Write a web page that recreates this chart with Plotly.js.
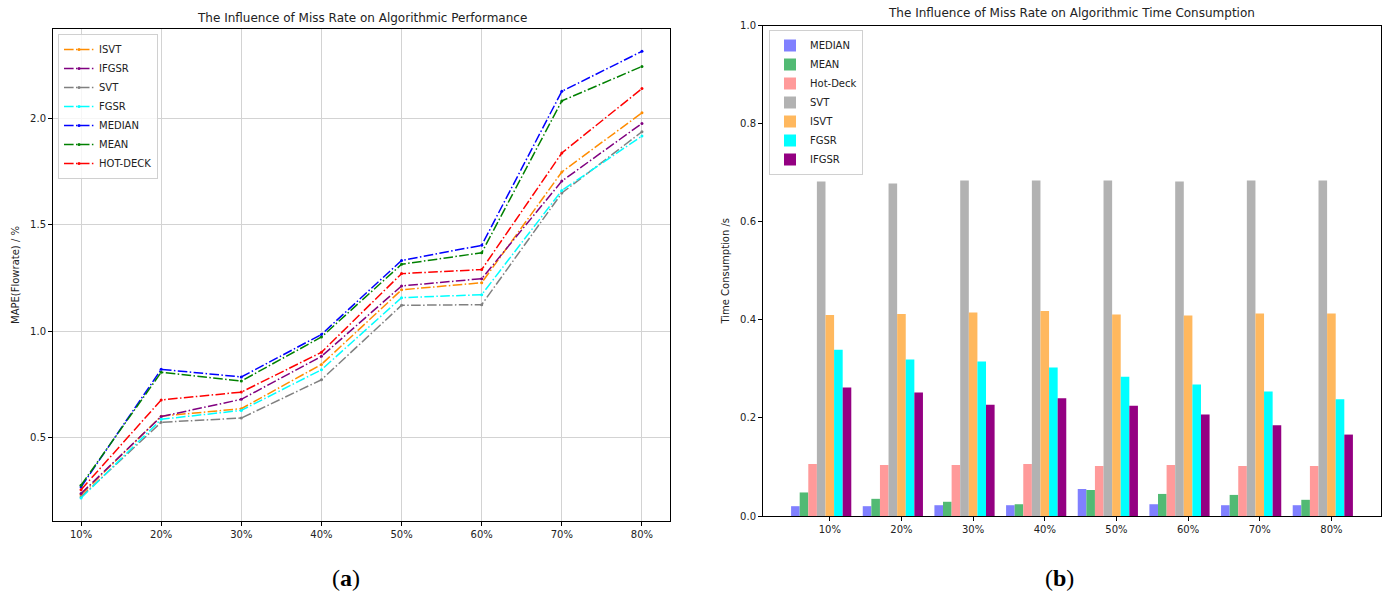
<!DOCTYPE html>
<html>
<head>
<meta charset="utf-8">
<script src="https://cdn.plot.ly/plotly-3.0.1.min.js"></script>
<style>html,body{margin:0;padding:0;background:#fff;}#chart{width:1389px;height:595px;}</style>
</head>
<body>
<div id="chart"></div>
<script>
// ---- Data ----
const categories = ["10%", "20%", "30%", "40%", "50%", "60%", "70%", "80%"];

// (a) MAPE(Flowrate) / %
const lineNames = ["ISVT", "IFGSR", "SVT", "FGSR", "MEDIAN", "MEAN", "HOT-DECK"];
const mapeISVT    = [0.23, 0.60, 0.635, 0.843, 1.194, 1.227, 1.748, 2.026];
const mapeIFGSR   = [0.236, 0.598, 0.679, 0.881, 1.212, 1.246, 1.705, 1.976];
const mapeSVT     = [0.22, 0.571, 0.591, 0.771, 1.121, 1.124, 1.649, 1.937];
const mapeFGSR    = [0.215, 0.585, 0.627, 0.818, 1.157, 1.171, 1.661, 1.917];
const mapeMEDIAN  = [0.267, 0.82, 0.784, 0.984, 1.332, 1.403, 2.127, 2.315];
const mapeMEAN    = [0.275, 0.806, 0.765, 0.972, 1.314, 1.368, 2.082, 2.244];
const mapeHOTDECK = [0.254, 0.676, 0.713, 0.90, 1.27, 1.289, 1.837, 2.14];

// (b) Time Consumption /s
const barNames = ["MEDIAN", "MEAN", "Hot-Deck", "SVT", "ISVT", "FGSR", "IFGSR"];
const timeMEDIAN  = [0.020, 0.020, 0.022, 0.022, 0.055, 0.024, 0.022, 0.022];
const timeMEAN    = [0.048, 0.035, 0.029, 0.024, 0.053, 0.045, 0.043, 0.033];
const timeHotDeck = [0.106, 0.104, 0.104, 0.106, 0.102, 0.104, 0.102, 0.102];
const timeSVT     = [0.682, 0.678, 0.684, 0.684, 0.684, 0.682, 0.684, 0.684];
const timeISVT    = [0.410, 0.412, 0.415, 0.418, 0.411, 0.409, 0.413, 0.413];
const timeFGSR    = [0.339, 0.319, 0.315, 0.303, 0.284, 0.268, 0.254, 0.238];
const timeIFGSR   = [0.262, 0.252, 0.227, 0.240, 0.225, 0.207, 0.185, 0.166];

// ---- Styles ----
const lineSeries = [mapeISVT, mapeIFGSR, mapeSVT, mapeFGSR, mapeMEDIAN, mapeMEAN, mapeHOTDECK];
const lineColors = ["#ff8c00", "#800080", "#808080", "#00ffff", "#0000ff", "#008000", "#ff0000"];
const barSeries = [timeMEDIAN, timeMEAN, timeHotDeck, timeSVT, timeISVT, timeFGSR, timeIFGSR];
const barColors = ["#8080ff", "#52ba74", "#ff9a9a", "#b2b2b2", "#ffb85e", "#00ffff", "#940082"];

const FONT = "DejaVu Sans, sans-serif";
const traces = [];

lineSeries.forEach((ys, i) => {
  traces.push({
    type: "scatter", mode: "lines+markers",
    x: categories, y: ys, name: lineNames[i],
    xaxis: "x", yaxis: "y", legend: "legend",
    line: {color: lineColors[i], width: 1.5, dash: "9.6px,2.4px,1.5px,2.4px"},
    marker: {color: lineColors[i], size: 3}
  });
});

const w = 0.12;
barSeries.forEach((ys, i) => {
  traces.push({
    type: "bar", x: categories, y: ys, name: barNames[i],
    xaxis: "x2", yaxis: "y2", legend: "legend2",
    width: w, offset: (i - 4.5) * w,
    marker: {color: barColors[i], line: {width: 0}}
  });
});

const W = 1389, H = 595;
const axBase = {
  showline: true, mirror: true, linecolor: "#000", linewidth: 1,
  ticks: "outside", ticklen: 4, tickcolor: "#000", tickwidth: 1,
  zeroline: false, automargin: false,
  tickfont: {family: FONT, size: 10, color: "#222"}
};

const layout = {
  width: W, height: H,
  margin: {l: 0, r: 0, t: 0, b: 0},
  paper_bgcolor: "#fff", plot_bgcolor: "#fff",
  font: {family: FONT, size: 10, color: "#222"},
  barmode: "overlay",
  xaxis: Object.assign({}, axBase, {
    domain: [53 / W, 670 / W], anchor: "y", type: "category",
    range: [-0.35, 7.35], showgrid: true, gridcolor: "#d3d3d3", gridwidth: 1
  }),
  yaxis: Object.assign({}, axBase, {
    domain: [1 - 521 / H, 1 - 29 / H], anchor: "x",
    range: [0.107, 2.42], tickvals: [0.5, 1.0, 1.5, 2.0], tickformat: ".1f",
    showgrid: true, gridcolor: "#d3d3d3", gridwidth: 1,
    title: {text: "MAPE(Flowrate) / %", font: {family: FONT, size: 10, color: "#222"}, standoff: 8}
  }),
  xaxis2: Object.assign({}, axBase, {
    domain: [763 / W, 1381 / W], anchor: "y2", type: "category",
    range: [-0.932, 7.692], showgrid: false
  }),
  yaxis2: Object.assign({}, axBase, {
    domain: [1 - 516 / H, 1 - 25.5 / H], anchor: "x2",
    range: [0, 1], tickvals: [0, 0.2, 0.4, 0.6, 0.8, 1.0], tickformat: ".1f",
    showgrid: false,
    title: {text: "Time Consumption /s", font: {family: FONT, size: 10, color: "#222"}, standoff: 8}
  }),
  legend: {
    x: 58 / W, y: 1 - 34 / H, xanchor: "left", yanchor: "top",
    bgcolor: "rgba(255,255,255,0.8)", bordercolor: "#d0d0d0", borderwidth: 1,
    font: {family: FONT, size: 10, color: "#222"}, tracegroupgap: 0
  },
  legend2: {
    x: 769 / W, y: 1 - 30 / H, xanchor: "left", yanchor: "top",
    bgcolor: "rgba(255,255,255,0.8)", bordercolor: "#d0d0d0", borderwidth: 1,
    font: {family: FONT, size: 10, color: "#222"}, tracegroupgap: 0
  },
  showlegend: true,
  annotations: [
    {text: "The Influence of Miss Rate on Algorithmic Performance", xref: "paper", yref: "paper",
     x: 362 / W, y: 1 - 18 / H, xanchor: "center", yanchor: "middle", showarrow: false,
     font: {family: FONT, size: 12, color: "#222"}},
    {text: "The Influence of Miss Rate on Algorithmic Time Consumption", xref: "paper", yref: "paper",
     x: 1071 / W, y: 1 - 13 / H, xanchor: "center", yanchor: "middle", showarrow: false,
     font: {family: FONT, size: 12, color: "#222"}},
    {text: "(<b>a</b>)", xref: "paper", yref: "paper",
     x: 346 / W, y: 1 - 578 / H, xanchor: "center", yanchor: "middle", showarrow: false,
     font: {family: "Liberation Serif, serif", size: 24, color: "#000"}},
    {text: "(<b>b</b>)", xref: "paper", yref: "paper",
     x: 1059 / W, y: 1 - 578 / H, xanchor: "center", yanchor: "middle", showarrow: false,
     font: {family: "Liberation Serif, serif", size: 24, color: "#000"}}
  ]
};

Plotly.newPlot("chart", traces, layout, {staticPlot: true, displayModeBar: false});
</script>
</body>
</html>
